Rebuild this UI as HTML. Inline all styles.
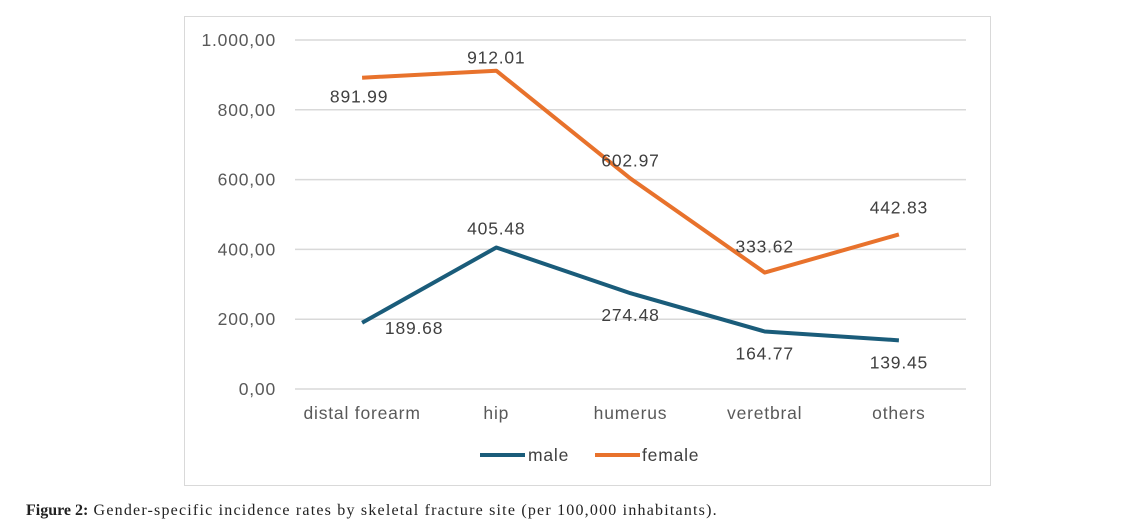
<!DOCTYPE html>
<html><head><meta charset="utf-8"><style>
body{margin:0;width:1140px;height:531px;background:#fff;overflow:hidden;position:relative}
#chart{position:absolute;left:0;top:0}
#cap{position:absolute;left:26px;top:502px;font-family:"Liberation Serif",serif;font-size:16px;color:#222;letter-spacing:1.2px;white-space:nowrap}
#cap b{letter-spacing:0}
text{letter-spacing:0.8px}
</style></head><body>
<svg id="chart" width="1140" height="500">
<rect x="184.5" y="16.5" width="806" height="469" fill="#fff" stroke="#d9d9d9"/>
<g id="grid"></g><g id="series"></g>
<g>
<line x1="480" y1="455" x2="525" y2="455" stroke="#1a5c7a" stroke-width="4"/>
<text x="528" y="461" font-family="Liberation Sans,sans-serif" font-size="17.5" fill="#404040">male</text>
<line x1="595" y1="455" x2="640" y2="455" stroke="#e8722c" stroke-width="4"/>
<text x="642" y="461" font-family="Liberation Sans,sans-serif" font-size="17.5" fill="#404040">female</text>
</g>
</svg>
<div id="cap"><b>Figure 2:</b> Gender-specific incidence rates by skeletal fracture site (per 100,000 inhabitants).</div>
<script>
const categories=["distal forearm","hip","humerus","veretbral","others"];
const male=[189.68,405.48,274.48,164.77,139.45];
const female=[891.99,912.01,602.97,333.62,442.83];
const yTicks=[0,200,400,600,800,1000];
const yTickLabels=["0,00","200,00","400,00","600,00","800,00","1.000,00"];
const NS="http://www.w3.org/2000/svg";
const X0=295,X1=966,Y0=389,Y1=40;
const xs=i=>X0+(X1-X0)/categories.length*(i+0.5);
const ys=v=>Y0-(v/1000)*(Y0-Y1);
function mk(t,a,p){const e=document.createElementNS(NS,t);for(const k in a)e.setAttribute(k,a[k]);p.appendChild(e);return e;}
const g=document.getElementById('grid'),s=document.getElementById('series');
const F="Liberation Sans,sans-serif";
yTicks.forEach((v,i)=>{
 const l=mk('line',{x1:X0,x2:X1,y1:ys(v),y2:ys(v),stroke:'#d9d9d9','stroke-width':1.5},g);
 
 
 const t=mk('text',{x:276,y:ys(v)+6,'text-anchor':'end','font-family':F,'font-size':17.5,fill:'#595959'},g);
 t.textContent=yTickLabels[i];
 
 
});
categories.forEach((c,i)=>{
 const t=mk('text',{x:xs(i),y:419,'text-anchor':'middle','font-family':F,'font-size':17.5,fill:'#595959'},g);
 t.textContent=c;
 
 
});
function line(data,color,name,offs){
 const p=mk('polyline',{points:data.map((v,i)=>xs(i)+','+ys(v)).join(' '),fill:'none',stroke:color,'stroke-width':4,'stroke-linejoin':'round'},s);
 
 
 data.forEach((v,i)=>{
  const t=mk('text',{x:xs(i)+offs[i][0],y:ys(v)+offs[i][1],'text-anchor':'middle','font-family':F,'font-size':17.5,fill:'#404040'},s);
  t.textContent=v.toFixed(2);
  
  
 });
}
line(male,'#1a5c7a','male',[[52,11],[0,-13],[0,28],[0,28],[0,28]]);
line(female,'#e8722c','female',[[-3,25],[0,-7],[0,-12],[0,-20],[0,-21]]);
</script>
</body></html>
